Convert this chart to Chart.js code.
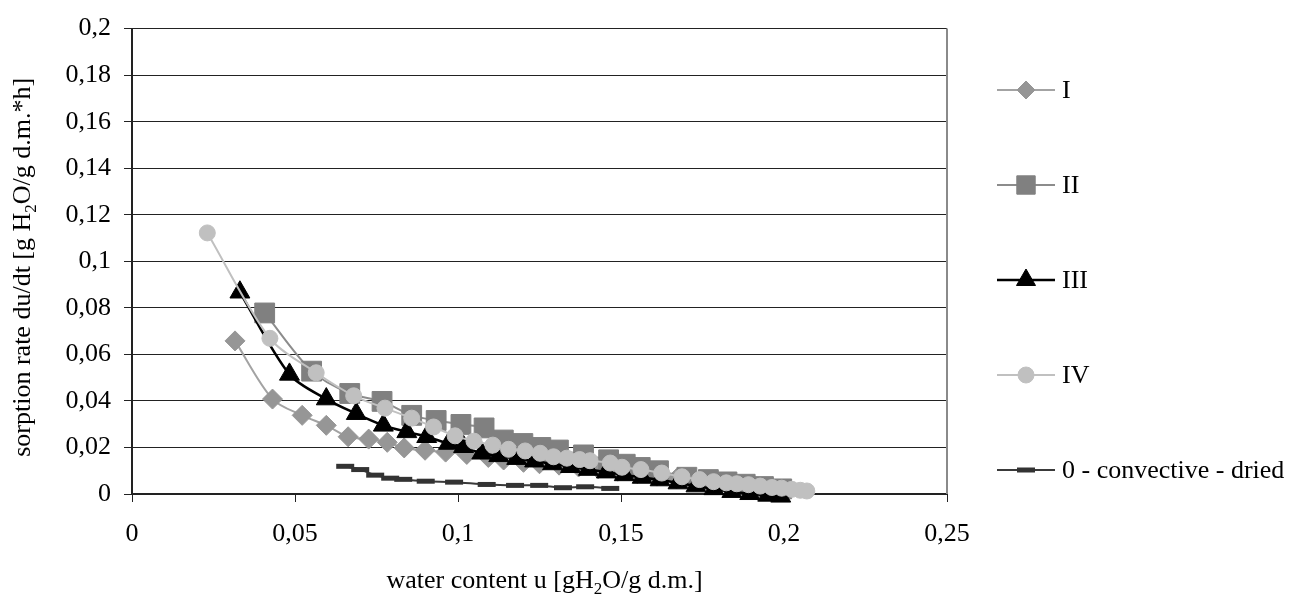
<!DOCTYPE html>
<html><head><meta charset="utf-8">
<script src="https://cdn.jsdelivr.net/npm/chart.js@4.4.1/dist/chart.umd.min.js"></script>
<style>html,body{margin:0;padding:0;background:#fff;}#wrap{position:relative;width:1305px;height:594px;}</style>
</head><body><div id="wrap"><canvas id="c"></canvas></div>
<script>
// ---- data ----
const seriesNames = ['I', 'II', 'III', 'IV', '0 - convective - dried'];

const xI = [0.0316, 0.0431, 0.0522, 0.0596, 0.0663, 0.0726, 0.0783, 0.0835, 0.0899, 0.0962, 0.1027, 0.1093, 0.1140, 0.1201, 0.1250, 0.1310, 0.1370, 0.1430, 0.1490, 0.1550, 0.1610, 0.1670, 0.1730, 0.1790, 0.1850, 0.1910, 0.1970];
const yI = [0.0658, 0.0408, 0.0338, 0.0295, 0.0246, 0.0236, 0.0222, 0.0198, 0.0188, 0.0180, 0.0170, 0.0157, 0.0146, 0.0136, 0.0130, 0.0124, 0.0116, 0.0108, 0.0098, 0.0088, 0.0077, 0.0066, 0.0055, 0.0044, 0.0034, 0.0026, 0.0018];

const xII = [0.0407, 0.0551, 0.0668, 0.0767, 0.0858, 0.0933, 0.1009, 0.1080, 0.1139, 0.1199, 0.1254, 0.1308, 0.1385, 0.1462, 0.1513, 0.1559, 0.1615, 0.1702, 0.1768, 0.1825, 0.1881, 0.1937, 0.1993];
const yII = [0.0778, 0.0528, 0.0432, 0.0398, 0.0338, 0.0316, 0.0299, 0.0284, 0.0232, 0.0217, 0.0200, 0.0189, 0.0168, 0.0147, 0.0128, 0.0114, 0.0100, 0.0072, 0.0062, 0.0052, 0.0042, 0.0032, 0.0022];

const xIII = [0.0331, 0.0483, 0.0596, 0.0688, 0.0771, 0.0843, 0.0904, 0.0971, 0.1017, 0.1073, 0.1125, 0.1180, 0.1235, 0.1290, 0.1345, 0.1400, 0.1455, 0.1510, 0.1565, 0.1620, 0.1675, 0.1730, 0.1785, 0.1840, 0.1895, 0.1950, 0.1990];
const yIII = [0.0867, 0.0514, 0.0408, 0.0345, 0.0295, 0.0267, 0.0246, 0.0217, 0.0203, 0.0175, 0.0164, 0.0152, 0.0141, 0.0129, 0.0117, 0.0105, 0.0094, 0.0082, 0.0071, 0.0060, 0.0047, 0.0034, 0.0022, 0.0010, 0.0001, -0.0006, -0.0010];

const xIV = [0.0231, 0.0423, 0.0565, 0.0680, 0.0776, 0.0858, 0.0925, 0.0991, 0.1049, 0.1107, 0.1155, 0.1206, 0.1252, 0.1293, 0.1334, 0.1373, 0.1405, 0.1467, 0.1503, 0.1561, 0.1625, 0.1687, 0.1741, 0.1784, 0.1823, 0.1855, 0.1891, 0.1927, 0.1963, 0.1993, 0.2024, 0.2050, 0.2070];
const yIV = [0.1122, 0.0669, 0.0521, 0.0422, 0.0369, 0.0326, 0.0288, 0.0250, 0.0227, 0.0210, 0.0192, 0.0185, 0.0175, 0.0160, 0.0154, 0.0148, 0.0143, 0.0133, 0.0115, 0.0105, 0.0090, 0.0074, 0.0062, 0.0053, 0.0048, 0.0044, 0.0040, 0.0034, 0.0028, 0.0025, 0.0020, 0.0016, 0.0013];

const x0 = [0.0654, 0.0700, 0.0746, 0.0792, 0.0832, 0.0901, 0.0988, 0.1088, 0.1175, 0.1249, 0.1322, 0.1390, 0.1467];
const y0 = [0.0119, 0.0105, 0.0081, 0.0068, 0.0063, 0.0055, 0.0051, 0.0041, 0.0037, 0.0037, 0.0027, 0.0031, 0.0024];

const xTickStep = 0.05, yTickStep = 0.02;
const xRange = [0, 0.25], yRange = [0, 0.2];
const xTitleParts = ['water content u [gH', '2', 'O/g d.m.]'];
const yTitleParts = ['sorption rate du/dt [g H', '2', 'O/g d.m.*h]'];

// ---- helpers ----
const FONT = "'Liberation Serif', 'Times New Roman', serif";
const pts = (xs, ys) => xs.map((x, i) => ({x: x, y: ys[i]}));
const fmt = v => { let s = Number(v.toFixed(3)).toString(); return s.replace('.', ','); };

function drawSubText(ctx, parts, cx, baseY) {
  const big = '26px ' + FONT, small = '17px ' + FONT;
  ctx.font = big; const w0 = ctx.measureText(parts[0]).width, w2 = ctx.measureText(parts[2]).width;
  ctx.font = small; const w1 = ctx.measureText(parts[1]).width;
  let x = cx - (w0 + w1 + w2) / 2;
  ctx.textAlign = 'left'; ctx.textBaseline = 'alphabetic'; ctx.fillStyle = '#000';
  ctx.font = big; ctx.fillText(parts[0], x, baseY); x += w0;
  ctx.font = small; ctx.fillText(parts[1], x, baseY + 6); x += w1;
  ctx.font = big; ctx.fillText(parts[2], x, baseY);
}

const decorPlugin = {
  id: 'decor',
  afterDraw(chart) {
    const ctx = chart.ctx, a = chart.chartArea;
    ctx.save();
    // right border of plot area
    ctx.strokeStyle = '#8a8a8a'; ctx.lineWidth = 2;
    ctx.beginPath(); ctx.moveTo(a.right, a.top); ctx.lineTo(a.right, a.bottom); ctx.stroke();
    // axis titles
    drawSubText(ctx, xTitleParts, (a.left + a.right) / 2 + 5, 588);
    ctx.save();
    ctx.translate(30, (a.top + a.bottom) / 2 + 6);
    ctx.rotate(-Math.PI / 2);
    drawSubText(ctx, yTitleParts, 0, 0);
    ctx.restore();
    // legend
    const lx0 = 997, lx1 = 1055, mx = 1026, tx = 1062;
    chart.data.datasets.forEach((ds, i) => {
      const y = 90 + i * 95;
      ctx.strokeStyle = ds.borderColor; ctx.lineWidth = ds.borderWidth;
      ctx.beginPath(); ctx.moveTo(lx0, y); ctx.lineTo(lx1, y); ctx.stroke();
      ctx.fillStyle = ds.pointBackgroundColor; ctx.strokeStyle = ds.pointBorderColor;
      ctx.lineWidth = ds.pointBorderWidth;
      Chart.helpers.drawPoint(ctx, {pointStyle: ds.pointStyle, radius: ds.legendRadius, rotation: 0, borderWidth: ds.pointBorderWidth}, mx, y);
      ctx.fillStyle = '#000'; ctx.font = '26px ' + FONT; ctx.textAlign = 'left'; ctx.textBaseline = 'middle';
      ctx.fillText(ds.label, tx, y + 1);
    });
    ctx.restore();
  }
};

new Chart(document.getElementById('c'), {
  type: 'scatter',
  data: {
    datasets: [
      {label: seriesNames[0], data: pts(xI, yI), showLine: true, borderColor: '#a3a3a3', borderWidth: 2,
       pointStyle: 'rectRot', pointRadius: 10, legendRadius: 9, pointBackgroundColor: '#969696', pointBorderColor: '#969696', pointBorderWidth: 1, order: 5},
      {label: seriesNames[1], data: pts(xII, yII), showLine: true, borderColor: '#8c8c8c', borderWidth: 2,
       pointStyle: 'rect', pointRadius: 14, legendRadius: 13, pointBackgroundColor: '#808080', pointBorderColor: '#808080', pointBorderWidth: 1, order: 4},
      {label: seriesNames[2], data: pts(xIII, yIII), showLine: true, borderColor: '#000000', borderWidth: 2.5,
       pointStyle: 'triangle', pointRadius: 11.5, legendRadius: 11, pointBackgroundColor: '#000000', pointBorderColor: '#000000', pointBorderWidth: 1, order: 3},
      {label: seriesNames[3], data: pts(xIV, yIV), showLine: true, borderColor: '#c0c0c0', borderWidth: 2,
       pointStyle: 'circle', pointRadius: 8, legendRadius: 8, pointBackgroundColor: '#c0c0c0', pointBorderColor: '#c0c0c0', pointBorderWidth: 1, order: 2},
      {label: seriesNames[4], data: pts(x0, y0), showLine: true, borderColor: '#3a3a3a', borderWidth: 2,
       pointStyle: 'line', pointRadius: 9, legendRadius: 9, pointBackgroundColor: '#333333', pointBorderColor: '#333333', pointBorderWidth: 5, order: 1}
    ].map(d => Object.assign(d, {tension: 0.3, clip: false, pointHoverRadius: d.pointRadius}))
  },
  options: {
    responsive: true, maintainAspectRatio: false, animation: false,
    layout: {padding: {left: 0, top: 21, right: 358, bottom: 0}},
    plugins: {legend: {display: false}, tooltip: {enabled: false}},
    scales: {
      x: {
        type: 'linear', min: xRange[0], max: xRange[1],
        afterFit: s => { s.height = 100; },
        border: {display: true, color: '#222', width: 2},
        grid: {display: true, drawOnChartArea: false, drawTicks: true, tickLength: 8, color: '#222', lineWidth: 1},
        ticks: {stepSize: xTickStep, padding: 17, color: '#000', font: {family: FONT, size: 26}, callback: v => fmt(v), maxRotation: 0}
      },
      y: {
        type: 'linear', min: yRange[0], max: yRange[1],
        afterFit: s => { s.width = 132; },
        border: {display: true, color: '#222', width: 2},
        grid: {display: true, drawOnChartArea: true, drawTicks: true, tickLength: 8, color: '#222', lineWidth: 1},
        ticks: {stepSize: yTickStep, padding: 13, color: '#000', font: {family: FONT, size: 26}, callback: v => fmt(v)}
      }
    }
  },
  plugins: [decorPlugin]
});
</script></body></html>
